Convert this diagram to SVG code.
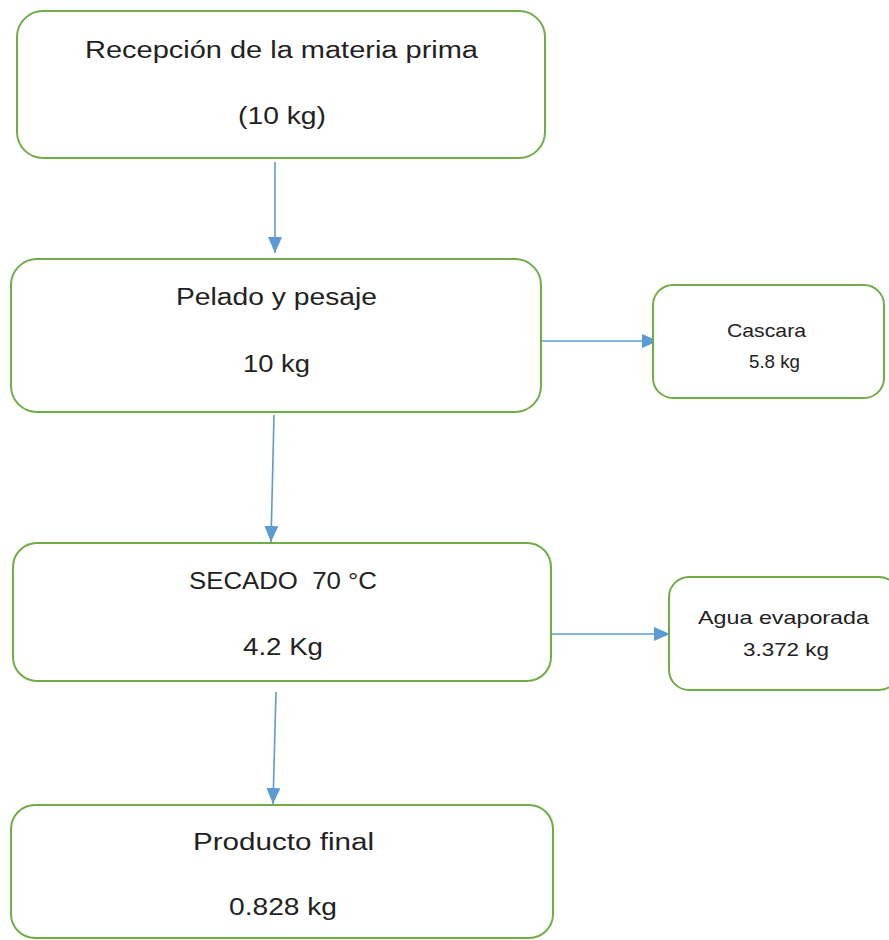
<svg xmlns="http://www.w3.org/2000/svg" width="889" height="940" viewBox="0 0 889 940">
<defs>
<style>
.box{fill:#fff;stroke:#70AD47;stroke-width:2}
.t{font-family:"Liberation Sans",Arial,sans-serif;font-size:23px;fill:#222;text-anchor:middle;white-space:pre}
.s{font-family:"Liberation Sans",Arial,sans-serif;font-size:19px;fill:#222;text-anchor:middle}
.c{stroke:#5B9BD5;stroke-width:1.6;fill:none;marker-end:url(#ah)}
</style>
<marker id="ah" viewBox="0 0 16 14" refX="16" refY="7" markerWidth="16" markerHeight="14" markerUnits="userSpaceOnUse" orient="auto">
<path d="M0,0 L16,7 L0,14 z" fill="#5B9BD5"/>
</marker>
</defs>
<rect width="889" height="940" fill="#fff"/>
<g id="connectors">
<line class="c" x1="275" y1="162" x2="275" y2="253"/>
<line class="c" x1="274" y1="415" x2="271" y2="542"/>
<line class="c" x1="276" y1="692" x2="273" y2="804"/>
<line class="c" x1="541" y1="341" x2="658" y2="341"/>
<line class="c" x1="551" y1="634" x2="670" y2="634"/>
</g>
<g id="n1"><rect class="box" x="17" y="11" width="528" height="147" rx="26"/>
<text class="t" x="281.5" y="58" textLength="393" lengthAdjust="spacingAndGlyphs">Recepción de la materia prima</text>
<text class="t" x="282" y="124" textLength="88" lengthAdjust="spacingAndGlyphs">(10 kg)</text></g>
<g id="n2"><rect class="box" x="11" y="259" width="530" height="153" rx="26"/>
<text class="t" x="276.5" y="305" textLength="201" lengthAdjust="spacingAndGlyphs">Pelado y pesaje</text>
<text class="t" x="276.5" y="372" textLength="67" lengthAdjust="spacingAndGlyphs">10 kg</text></g>
<g id="n3"><rect class="box" x="653" y="285" width="231" height="113" rx="20"/>
<text class="s" x="766.5" y="337" textLength="79" lengthAdjust="spacingAndGlyphs">Cascara</text>
<text class="s" x="774.5" y="368" textLength="51" lengthAdjust="spacingAndGlyphs">5.8 kg</text></g>
<g id="n4"><rect class="box" x="13" y="543" width="538" height="138" rx="24"/>
<text class="t" x="283" y="589" textLength="188" lengthAdjust="spacingAndGlyphs">SECADO  70 °C</text>
<text class="t" x="283" y="655" textLength="80" lengthAdjust="spacingAndGlyphs">4.2 Kg</text></g>
<g id="n5"><rect class="box" x="669" y="577" width="230" height="113" rx="20"/>
<text class="s" x="783.5" y="624" textLength="171" lengthAdjust="spacingAndGlyphs">Agua evaporada</text>
<text class="s" x="786" y="656" textLength="86" lengthAdjust="spacingAndGlyphs">3.372 kg</text></g>
<g id="n6"><rect class="box" x="11" y="805" width="542" height="133" rx="24"/>
<text class="t" x="283.5" y="850" textLength="181" lengthAdjust="spacingAndGlyphs">Producto final</text>
<text class="t" x="283" y="915" textLength="108" lengthAdjust="spacingAndGlyphs">0.828 kg</text></g>
</svg>
